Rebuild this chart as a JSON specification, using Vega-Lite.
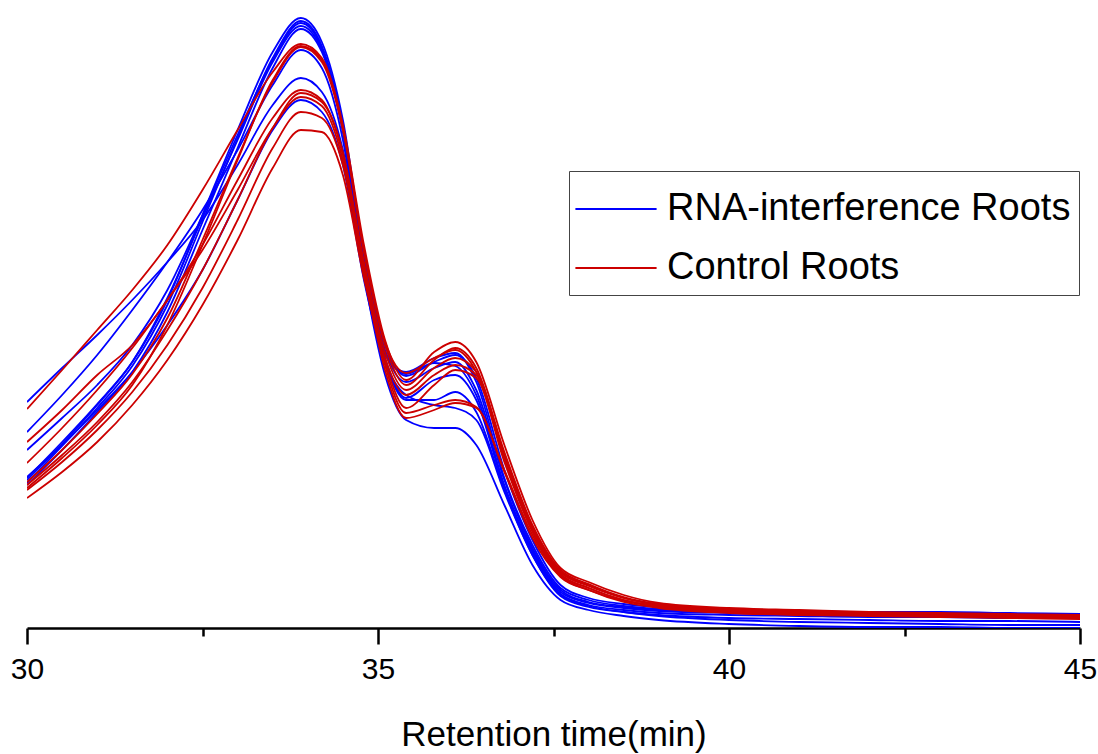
{
  "$schema": "https://vega.github.io/schema/vega-lite/v6.json",
  "width": 1053,
  "height": 628,
  "autosize": {"type": "none"},
  "padding": {"left": 27, "top": 0, "right": 18, "bottom": 126},
  "background": "white",
  "config": {"view": {"stroke": null}, "font": "Liberation Sans"},
  "datasets": {
    "runs": [
      {"run": "B1", "group": "RNA-interference Roots"},
      {"run": "B2", "group": "RNA-interference Roots"},
      {"run": "B3", "group": "RNA-interference Roots"},
      {"run": "B4", "group": "RNA-interference Roots"},
      {"run": "B5", "group": "RNA-interference Roots"},
      {"run": "B6", "group": "RNA-interference Roots"},
      {"run": "B7", "group": "RNA-interference Roots"},
      {"run": "B8", "group": "RNA-interference Roots"},
      {"run": "R1", "group": "Control Roots"},
      {"run": "R2", "group": "Control Roots"},
      {"run": "R3", "group": "Control Roots"},
      {"run": "R4", "group": "Control Roots"},
      {"run": "R5", "group": "Control Roots"},
      {"run": "R6", "group": "Control Roots"},
      {"run": "R7", "group": "Control Roots"},
      {"run": "R8", "group": "Control Roots"}
    ],
    "traces": [
      {"run":"B1","time":30,"signal":150},{"run":"B1","time":30.5,"signal":186},{"run":"B1","time":31,"signal":224},{"run":"B1","time":31.5,"signal":266},{"run":"B1","time":32,"signal":328},{"run":"B1","time":32.5,"signal":413},{"run":"B1","time":33,"signal":498},{"run":"B1","time":33.5,"signal":576},{"run":"B1","time":33.9,"signal":610},{"run":"B1","time":34.2,"signal":586},{"run":"B1","time":34.5,"signal":508},{"run":"B1","time":34.8,"signal":373},{"run":"B1","time":35.1,"signal":283},{"run":"B1","time":35.4,"signal":252},{"run":"B1","time":35.8,"signal":266},{"run":"B1","time":36.1,"signal":273},{"run":"B1","time":36.4,"signal":250},{"run":"B1","time":36.8,"signal":158},{"run":"B1","time":37.2,"signal":88},{"run":"B1","time":37.6,"signal":43},{"run":"B1","time":38,"signal":30},{"run":"B1","time":38.5,"signal":24},{"run":"B1","time":39,"signal":21},{"run":"B1","time":40,"signal":18},{"run":"B1","time":41,"signal":17},{"run":"B1","time":42,"signal":16},{"run":"B1","time":43,"signal":16},{"run":"B1","time":44,"signal":15},{"run":"B1","time":45,"signal":14},
      {"run":"B2","time":30,"signal":145},{"run":"B2","time":30.5,"signal":182},{"run":"B2","time":31,"signal":220},{"run":"B2","time":31.5,"signal":262},{"run":"B2","time":32,"signal":323},{"run":"B2","time":32.5,"signal":406},{"run":"B2","time":33,"signal":490},{"run":"B2","time":33.5,"signal":570},{"run":"B2","time":33.9,"signal":607},{"run":"B2","time":34.2,"signal":582},{"run":"B2","time":34.5,"signal":503},{"run":"B2","time":34.8,"signal":370},{"run":"B2","time":35.1,"signal":278},{"run":"B2","time":35.4,"signal":246},{"run":"B2","time":35.8,"signal":260},{"run":"B2","time":36.1,"signal":266},{"run":"B2","time":36.4,"signal":238},{"run":"B2","time":36.8,"signal":148},{"run":"B2","time":37.2,"signal":80},{"run":"B2","time":37.6,"signal":38},{"run":"B2","time":38,"signal":26},{"run":"B2","time":38.5,"signal":21},{"run":"B2","time":39,"signal":18},{"run":"B2","time":40,"signal":16},{"run":"B2","time":41,"signal":15},{"run":"B2","time":42,"signal":14},{"run":"B2","time":43,"signal":14},{"run":"B2","time":44,"signal":13},{"run":"B2","time":45,"signal":13},
      {"run":"B3","time":30,"signal":178},{"run":"B3","time":30.5,"signal":210},{"run":"B3","time":31,"signal":243},{"run":"B3","time":31.5,"signal":283},{"run":"B3","time":32,"signal":338},{"run":"B3","time":32.5,"signal":413},{"run":"B3","time":33,"signal":493},{"run":"B3","time":33.5,"signal":568},{"run":"B3","time":33.9,"signal":605},{"run":"B3","time":34.2,"signal":580},{"run":"B3","time":34.5,"signal":500},{"run":"B3","time":34.8,"signal":366},{"run":"B3","time":35.1,"signal":268},{"run":"B3","time":35.4,"signal":233},{"run":"B3","time":35.8,"signal":223},{"run":"B3","time":36.1,"signal":220},{"run":"B3","time":36.4,"signal":208},{"run":"B3","time":36.8,"signal":136},{"run":"B3","time":37.2,"signal":73},{"run":"B3","time":37.6,"signal":33},{"run":"B3","time":38,"signal":22},{"run":"B3","time":38.5,"signal":16},{"run":"B3","time":39,"signal":12},{"run":"B3","time":40,"signal":8},{"run":"B3","time":41,"signal":6},{"run":"B3","time":42,"signal":5},{"run":"B3","time":43,"signal":4},{"run":"B3","time":44,"signal":3},{"run":"B3","time":45,"signal":3},
      {"run":"B4","time":30,"signal":148},{"run":"B4","time":30.5,"signal":184},{"run":"B4","time":31,"signal":223},{"run":"B4","time":31.5,"signal":266},{"run":"B4","time":32,"signal":330},{"run":"B4","time":32.5,"signal":410},{"run":"B4","time":33,"signal":488},{"run":"B4","time":33.5,"signal":566},{"run":"B4","time":33.9,"signal":602},{"run":"B4","time":34.2,"signal":578},{"run":"B4","time":34.5,"signal":498},{"run":"B4","time":34.8,"signal":363},{"run":"B4","time":35.1,"signal":276},{"run":"B4","time":35.4,"signal":254},{"run":"B4","time":35.8,"signal":265},{"run":"B4","time":36.1,"signal":262},{"run":"B4","time":36.4,"signal":233},{"run":"B4","time":36.8,"signal":143},{"run":"B4","time":37.2,"signal":78},{"run":"B4","time":37.6,"signal":36},{"run":"B4","time":38,"signal":25},{"run":"B4","time":38.5,"signal":20},{"run":"B4","time":39,"signal":17},{"run":"B4","time":40,"signal":15},{"run":"B4","time":41,"signal":14},{"run":"B4","time":42,"signal":14},{"run":"B4","time":43,"signal":13},{"run":"B4","time":44,"signal":13},{"run":"B4","time":45,"signal":12},
      {"run":"B5","time":30,"signal":143},{"run":"B5","time":30.5,"signal":178},{"run":"B5","time":31,"signal":216},{"run":"B5","time":31.5,"signal":256},{"run":"B5","time":32,"signal":316},{"run":"B5","time":32.5,"signal":398},{"run":"B5","time":33,"signal":480},{"run":"B5","time":33.5,"signal":560},{"run":"B5","time":33.9,"signal":599},{"run":"B5","time":34.2,"signal":576},{"run":"B5","time":34.5,"signal":496},{"run":"B5","time":34.8,"signal":360},{"run":"B5","time":35.1,"signal":270},{"run":"B5","time":35.4,"signal":230},{"run":"B5","time":35.8,"signal":248},{"run":"B5","time":36.1,"signal":253},{"run":"B5","time":36.4,"signal":228},{"run":"B5","time":36.8,"signal":140},{"run":"B5","time":37.2,"signal":76},{"run":"B5","time":37.6,"signal":34},{"run":"B5","time":38,"signal":23},{"run":"B5","time":38.5,"signal":18},{"run":"B5","time":39,"signal":15},{"run":"B5","time":40,"signal":13},{"run":"B5","time":41,"signal":12},{"run":"B5","time":42,"signal":11},{"run":"B5","time":43,"signal":11},{"run":"B5","time":44,"signal":10},{"run":"B5","time":45,"signal":10},
      {"run":"B6","time":30,"signal":196},{"run":"B6","time":30.5,"signal":233},{"run":"B6","time":31,"signal":273},{"run":"B6","time":31.5,"signal":318},{"run":"B6","time":32,"signal":366},{"run":"B6","time":32.5,"signal":418},{"run":"B6","time":33,"signal":478},{"run":"B6","time":33.5,"signal":543},{"run":"B6","time":33.9,"signal":578},{"run":"B6","time":34.2,"signal":560},{"run":"B6","time":34.5,"signal":488},{"run":"B6","time":34.8,"signal":353},{"run":"B6","time":35.1,"signal":253},{"run":"B6","time":35.4,"signal":208},{"run":"B6","time":35.8,"signal":200},{"run":"B6","time":36.1,"signal":200},{"run":"B6","time":36.4,"signal":183},{"run":"B6","time":36.8,"signal":123},{"run":"B6","time":37.2,"signal":63},{"run":"B6","time":37.6,"signal":28},{"run":"B6","time":38,"signal":18},{"run":"B6","time":38.5,"signal":12},{"run":"B6","time":39,"signal":8},{"run":"B6","time":40,"signal":4},{"run":"B6","time":41,"signal":2},{"run":"B6","time":42,"signal":1},{"run":"B6","time":43,"signal":1},{"run":"B6","time":44,"signal":0},{"run":"B6","time":45,"signal":0},
      {"run":"B7","time":30,"signal":226},{"run":"B7","time":30.5,"signal":260},{"run":"B7","time":31,"signal":293},{"run":"B7","time":31.5,"signal":328},{"run":"B7","time":32,"signal":366},{"run":"B7","time":32.5,"signal":408},{"run":"B7","time":33,"signal":463},{"run":"B7","time":33.5,"signal":523},{"run":"B7","time":33.9,"signal":550},{"run":"B7","time":34.2,"signal":536},{"run":"B7","time":34.5,"signal":478},{"run":"B7","time":34.8,"signal":358},{"run":"B7","time":35.1,"signal":273},{"run":"B7","time":35.4,"signal":256},{"run":"B7","time":35.8,"signal":270},{"run":"B7","time":36.1,"signal":275},{"run":"B7","time":36.4,"signal":246},{"run":"B7","time":36.8,"signal":150},{"run":"B7","time":37.2,"signal":83},{"run":"B7","time":37.6,"signal":40},{"run":"B7","time":38,"signal":28},{"run":"B7","time":38.5,"signal":22},{"run":"B7","time":39,"signal":19},{"run":"B7","time":40,"signal":16},{"run":"B7","time":41,"signal":15},{"run":"B7","time":42,"signal":15},{"run":"B7","time":43,"signal":14},{"run":"B7","time":44,"signal":14},{"run":"B7","time":45,"signal":14},
      {"run":"B8","time":30,"signal":151},{"run":"B8","time":30.5,"signal":183},{"run":"B8","time":31,"signal":218},{"run":"B8","time":31.5,"signal":256},{"run":"B8","time":32,"signal":303},{"run":"B8","time":32.5,"signal":358},{"run":"B8","time":33,"signal":428},{"run":"B8","time":33.5,"signal":498},{"run":"B8","time":33.9,"signal":528},{"run":"B8","time":34.2,"signal":516},{"run":"B8","time":34.5,"signal":463},{"run":"B8","time":34.8,"signal":348},{"run":"B8","time":35.1,"signal":266},{"run":"B8","time":35.4,"signal":228},{"run":"B8","time":35.8,"signal":228},{"run":"B8","time":36.1,"signal":236},{"run":"B8","time":36.4,"signal":216},{"run":"B8","time":36.8,"signal":138},{"run":"B8","time":37.2,"signal":73},{"run":"B8","time":37.6,"signal":32},{"run":"B8","time":38,"signal":21},{"run":"B8","time":38.5,"signal":16},{"run":"B8","time":39,"signal":13},{"run":"B8","time":40,"signal":10},{"run":"B8","time":41,"signal":9},{"run":"B8","time":42,"signal":8},{"run":"B8","time":43,"signal":7},{"run":"B8","time":44,"signal":7},{"run":"B8","time":45,"signal":6},
      {"run":"R1","time":30,"signal":219},{"run":"R1","time":30.5,"signal":258},{"run":"R1","time":31,"signal":298},{"run":"R1","time":31.5,"signal":338},{"run":"R1","time":32,"signal":383},{"run":"R1","time":32.5,"signal":438},{"run":"R1","time":33,"signal":498},{"run":"R1","time":33.5,"signal":556},{"run":"R1","time":33.9,"signal":584},{"run":"R1","time":34.2,"signal":570},{"run":"R1","time":34.5,"signal":503},{"run":"R1","time":34.8,"signal":383},{"run":"R1","time":35.1,"signal":288},{"run":"R1","time":35.4,"signal":248},{"run":"R1","time":35.8,"signal":276},{"run":"R1","time":36.1,"signal":286},{"run":"R1","time":36.4,"signal":266},{"run":"R1","time":36.8,"signal":183},{"run":"R1","time":37.2,"signal":108},{"run":"R1","time":37.6,"signal":60},{"run":"R1","time":38,"signal":46},{"run":"R1","time":38.5,"signal":33},{"run":"R1","time":39,"signal":25},{"run":"R1","time":40,"signal":20},{"run":"R1","time":41,"signal":18},{"run":"R1","time":42,"signal":16},{"run":"R1","time":43,"signal":15},{"run":"R1","time":44,"signal":14},{"run":"R1","time":45,"signal":13},
      {"run":"R2","time":30,"signal":140},{"run":"R2","time":30.5,"signal":170},{"run":"R2","time":31,"signal":203},{"run":"R2","time":31.5,"signal":243},{"run":"R2","time":32,"signal":303},{"run":"R2","time":32.5,"signal":383},{"run":"R2","time":33,"signal":468},{"run":"R2","time":33.5,"signal":548},{"run":"R2","time":33.9,"signal":582},{"run":"R2","time":34.2,"signal":568},{"run":"R2","time":34.5,"signal":500},{"run":"R2","time":34.8,"signal":378},{"run":"R2","time":35.1,"signal":283},{"run":"R2","time":35.4,"signal":243},{"run":"R2","time":35.8,"signal":268},{"run":"R2","time":36.1,"signal":280},{"run":"R2","time":36.4,"signal":260},{"run":"R2","time":36.8,"signal":176},{"run":"R2","time":37.2,"signal":103},{"run":"R2","time":37.6,"signal":58},{"run":"R2","time":38,"signal":44},{"run":"R2","time":38.5,"signal":31},{"run":"R2","time":39,"signal":24},{"run":"R2","time":40,"signal":19},{"run":"R2","time":41,"signal":17},{"run":"R2","time":42,"signal":15},{"run":"R2","time":43,"signal":14},{"run":"R2","time":44,"signal":13},{"run":"R2","time":45,"signal":12},
      {"run":"R3","time":30,"signal":146},{"run":"R3","time":30.5,"signal":178},{"run":"R3","time":31,"signal":214},{"run":"R3","time":31.5,"signal":254},{"run":"R3","time":32,"signal":310},{"run":"R3","time":32.5,"signal":388},{"run":"R3","time":33,"signal":470},{"run":"R3","time":33.5,"signal":546},{"run":"R3","time":33.9,"signal":581},{"run":"R3","time":34.2,"signal":566},{"run":"R3","time":34.5,"signal":498},{"run":"R3","time":34.8,"signal":376},{"run":"R3","time":35.1,"signal":286},{"run":"R3","time":35.4,"signal":255},{"run":"R3","time":35.8,"signal":270},{"run":"R3","time":36.1,"signal":278},{"run":"R3","time":36.4,"signal":256},{"run":"R3","time":36.8,"signal":170},{"run":"R3","time":37.2,"signal":100},{"run":"R3","time":37.6,"signal":56},{"run":"R3","time":38,"signal":43},{"run":"R3","time":38.5,"signal":30},{"run":"R3","time":39,"signal":23},{"run":"R3","time":40,"signal":18},{"run":"R3","time":41,"signal":16},{"run":"R3","time":42,"signal":14},{"run":"R3","time":43,"signal":13},{"run":"R3","time":44,"signal":12},{"run":"R3","time":45,"signal":11},
      {"run":"R4","time":30,"signal":186},{"run":"R4","time":30.5,"signal":218},{"run":"R4","time":31,"signal":253},{"run":"R4","time":31.5,"signal":283},{"run":"R4","time":32,"signal":328},{"run":"R4","time":32.5,"signal":383},{"run":"R4","time":33,"signal":448},{"run":"R4","time":33.5,"signal":510},{"run":"R4","time":33.9,"signal":538},{"run":"R4","time":34.2,"signal":528},{"run":"R4","time":34.5,"signal":473},{"run":"R4","time":34.8,"signal":360},{"run":"R4","time":35.1,"signal":263},{"run":"R4","time":35.4,"signal":215},{"run":"R4","time":35.8,"signal":223},{"run":"R4","time":36.1,"signal":228},{"run":"R4","time":36.4,"signal":221},{"run":"R4","time":36.8,"signal":158},{"run":"R4","time":37.2,"signal":93},{"run":"R4","time":37.6,"signal":53},{"run":"R4","time":38,"signal":40},{"run":"R4","time":38.5,"signal":28},{"run":"R4","time":39,"signal":22},{"run":"R4","time":40,"signal":17},{"run":"R4","time":41,"signal":15},{"run":"R4","time":42,"signal":14},{"run":"R4","time":43,"signal":13},{"run":"R4","time":44,"signal":12},{"run":"R4","time":45,"signal":11},
      {"run":"R5","time":30,"signal":143},{"run":"R5","time":30.5,"signal":173},{"run":"R5","time":31,"signal":206},{"run":"R5","time":31.5,"signal":246},{"run":"R5","time":32,"signal":298},{"run":"R5","time":32.5,"signal":358},{"run":"R5","time":33,"signal":428},{"run":"R5","time":33.5,"signal":500},{"run":"R5","time":33.9,"signal":535},{"run":"R5","time":34.2,"signal":526},{"run":"R5","time":34.5,"signal":476},{"run":"R5","time":34.8,"signal":366},{"run":"R5","time":35.1,"signal":276},{"run":"R5","time":35.4,"signal":238},{"run":"R5","time":35.8,"signal":260},{"run":"R5","time":36.1,"signal":270},{"run":"R5","time":36.4,"signal":256},{"run":"R5","time":36.8,"signal":173},{"run":"R5","time":37.2,"signal":100},{"run":"R5","time":37.6,"signal":56},{"run":"R5","time":38,"signal":42},{"run":"R5","time":38.5,"signal":30},{"run":"R5","time":39,"signal":23},{"run":"R5","time":40,"signal":18},{"run":"R5","time":41,"signal":16},{"run":"R5","time":42,"signal":14},{"run":"R5","time":43,"signal":13},{"run":"R5","time":44,"signal":12},{"run":"R5","time":45,"signal":11},
      {"run":"R6","time":30,"signal":165},{"run":"R6","time":30.5,"signal":200},{"run":"R6","time":31,"signal":238},{"run":"R6","time":31.5,"signal":280},{"run":"R6","time":32,"signal":328},{"run":"R6","time":32.5,"signal":378},{"run":"R6","time":33,"signal":438},{"run":"R6","time":33.5,"signal":500},{"run":"R6","time":33.9,"signal":531},{"run":"R6","time":34.2,"signal":522},{"run":"R6","time":34.5,"signal":468},{"run":"R6","time":34.8,"signal":356},{"run":"R6","time":35.1,"signal":258},{"run":"R6","time":35.4,"signal":210},{"run":"R6","time":35.8,"signal":218},{"run":"R6","time":36.1,"signal":225},{"run":"R6","time":36.4,"signal":220},{"run":"R6","time":36.8,"signal":156},{"run":"R6","time":37.2,"signal":90},{"run":"R6","time":37.6,"signal":51},{"run":"R6","time":38,"signal":38},{"run":"R6","time":38.5,"signal":27},{"run":"R6","time":39,"signal":21},{"run":"R6","time":40,"signal":16},{"run":"R6","time":41,"signal":14},{"run":"R6","time":42,"signal":13},{"run":"R6","time":43,"signal":12},{"run":"R6","time":44,"signal":11},{"run":"R6","time":45,"signal":10},
      {"run":"R7","time":30,"signal":138},{"run":"R7","time":30.5,"signal":166},{"run":"R7","time":31,"signal":198},{"run":"R7","time":31.5,"signal":236},{"run":"R7","time":32,"signal":283},{"run":"R7","time":32.5,"signal":340},{"run":"R7","time":33,"signal":408},{"run":"R7","time":33.5,"signal":480},{"run":"R7","time":33.9,"signal":516},{"run":"R7","time":34.2,"signal":510},{"run":"R7","time":34.5,"signal":463},{"run":"R7","time":34.8,"signal":358},{"run":"R7","time":35.1,"signal":270},{"run":"R7","time":35.4,"signal":233},{"run":"R7","time":35.8,"signal":253},{"run":"R7","time":36.1,"signal":263},{"run":"R7","time":36.4,"signal":253},{"run":"R7","time":36.8,"signal":170},{"run":"R7","time":37.2,"signal":98},{"run":"R7","time":37.6,"signal":54},{"run":"R7","time":38,"signal":40},{"run":"R7","time":38.5,"signal":28},{"run":"R7","time":39,"signal":22},{"run":"R7","time":40,"signal":17},{"run":"R7","time":41,"signal":15},{"run":"R7","time":42,"signal":13},{"run":"R7","time":43,"signal":12},{"run":"R7","time":44,"signal":11},{"run":"R7","time":45,"signal":10},
      {"run":"R8","time":30,"signal":130},{"run":"R8","time":30.5,"signal":156},{"run":"R8","time":31,"signal":186},{"run":"R8","time":31.5,"signal":223},{"run":"R8","time":32,"signal":268},{"run":"R8","time":32.5,"signal":323},{"run":"R8","time":33,"signal":388},{"run":"R8","time":33.5,"signal":460},{"run":"R8","time":33.9,"signal":498},{"run":"R8","time":34.2,"signal":496},{"run":"R8","time":34.5,"signal":453},{"run":"R8","time":34.8,"signal":350},{"run":"R8","time":35.1,"signal":266},{"run":"R8","time":35.4,"signal":220},{"run":"R8","time":35.8,"signal":243},{"run":"R8","time":36.1,"signal":258},{"run":"R8","time":36.4,"signal":250},{"run":"R8","time":36.8,"signal":166},{"run":"R8","time":37.2,"signal":96},{"run":"R8","time":37.6,"signal":52},{"run":"R8","time":38,"signal":38},{"run":"R8","time":38.5,"signal":26},{"run":"R8","time":39,"signal":20},{"run":"R8","time":40,"signal":15},{"run":"R8","time":41,"signal":13},{"run":"R8","time":42,"signal":12},{"run":"R8","time":43,"signal":11},{"run":"R8","time":44,"signal":10},{"run":"R8","time":45,"signal":9}
    ]
  },
  "data": {"name": "traces"},
  "transform": [
    {"lookup": "run", "from": {"data": {"name": "runs"}, "key": "run", "fields": ["group"]}}
  ],
  "layer": [
    {
      "mark": {"type": "line", "strokeWidth": 1.8, "clip": true, "interpolate": "monotone"},
      "encoding": {
        "x": {
          "field": "time", "type": "quantitative",
          "scale": {"domain": [30, 45], "nice": false, "zero": false},
          "axis": {
            "orient": "bottom",
            "values": [30, 35, 40, 45],
            "grid": false,
            "domainColor": "black", "domainWidth": 2.5,
            "tickColor": "black", "tickWidth": 2.5, "tickSize": 16,
            "labelFont": "Liberation Sans", "labelFontSize": 30, "labelColor": "black",
            "labelPadding": 10, "labelFlush": false, "labelOverlap": false,
            "title": "Retention time(min)",
            "titleFont": "Liberation Sans", "titleFontSize": 35, "titleFontWeight": "normal",
            "titleColor": "black", "titlePadding": 33
          }
        },
        "y": {
          "field": "signal", "type": "quantitative",
          "scale": {"domain": [0, 628], "nice": false},
          "axis": null
        },
        "color": {
          "field": "group", "type": "nominal",
          "scale": {"domain": ["RNA-interference Roots", "Control Roots"], "range": ["#0000ff", "#cc0000"]},
          "legend": {
            "title": null,
            "orient": "none",
            "legendX": 542,
            "legendY": 171,
            "labelFont": "Liberation Sans",
            "labelFontSize": 38,
            "labelColor": "black",
            "labelLimit": 700,
            "symbolType": "M-1.4,0H1.4",
            "symbolSize": 3364,
            "symbolStrokeWidth": 2,
            "symbolOffset": 9,
            "labelOffset": 21,
            "rowPadding": 10,
            "padding": 8,
            "strokeColor": "#444444",
            "fillColor": "white"
          }
        },
        "detail": {"field": "run", "type": "nominal"}
      }
    },
    {
      "mark": {"type": "line", "opacity": 0},
      "encoding": {
        "x": {
          "field": "time", "type": "quantitative",
          "axis": {
            "orient": "bottom",
            "values": [32.5, 37.5, 42.5],
            "grid": false, "domain": false, "labels": false, "title": null,
            "tickColor": "black", "tickWidth": 2.5, "tickSize": 8
          }
        },
        "y": {"field": "signal", "type": "quantitative", "axis": null},
        "detail": {"field": "run", "type": "nominal"}
      }
    }
  ],
  "resolve": {"axis": {"x": "independent"}}
}
